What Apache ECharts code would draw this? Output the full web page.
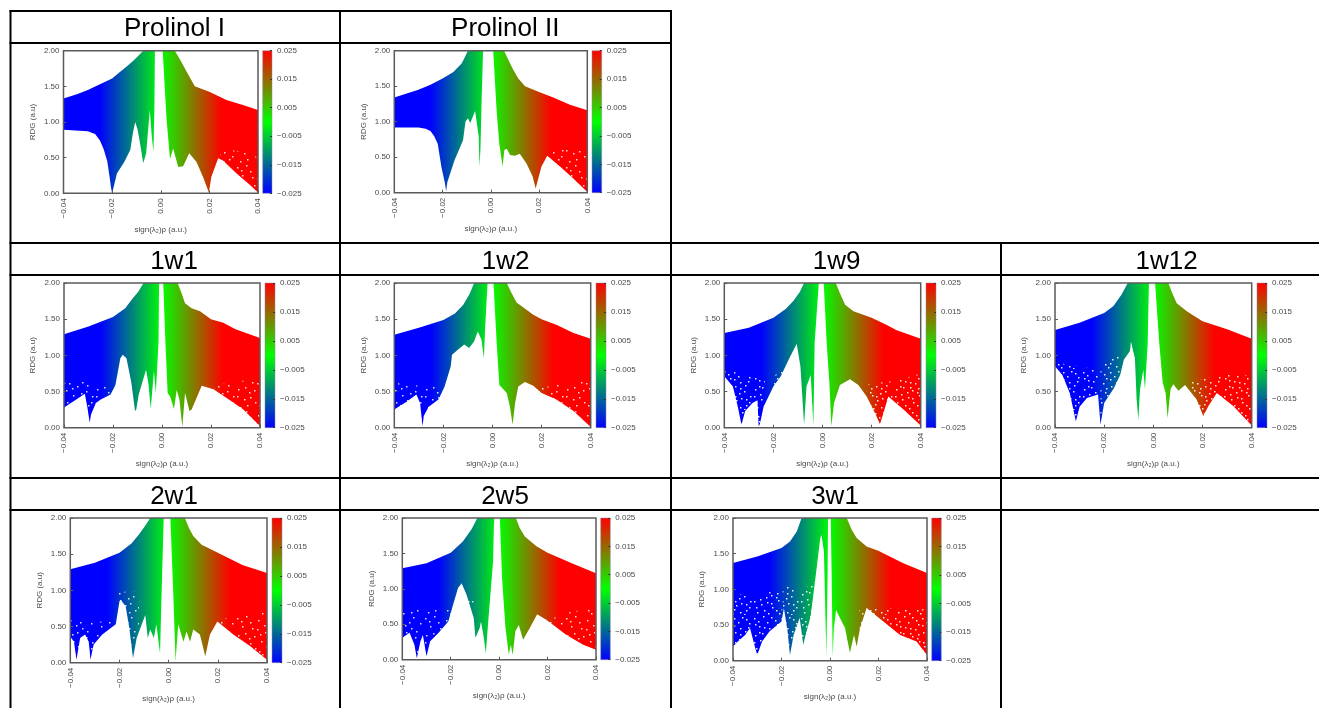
<!DOCTYPE html>
<html>
<head>
<meta charset="utf-8">
<script src="https://cdn.jsdelivr.net/npm/echarts@6/dist/echarts.min.js"></script>
<style>html,body{margin:0;padding:0;background:#fff}#c{width:1319px;height:708px}</style>
</head>
<body>
<div id="c"></div>
<script>
// ---- categories and tick labels ----
const panelNames = ['Prolinol I','Prolinol II','1w1','1w2','1w9','1w12','2w1','2w5','3w1'];
const xTickValues = [-0.04,-0.02,0,0.02,0.04];
const yTickValues = [0,0.5,1,1.5,2];
const colorTickValues = [-0.025,-0.015,-0.005,0.005,0.015,0.025];

// ---- [sign(l2)rho, RDG] upper and lower envelope of each point cloud ----
const prolinol1Upper = [[-0.04,1.33],[-0.0345,1.39],[-0.03,1.45],[-0.025,1.53],[-0.02,1.61],[-0.0168,1.7],[-0.014,1.78],[-0.0113,1.86],[-0.0092,1.93],[-0.0072,2],[0.0058,2],[0.0072,1.92],[0.0085,1.84],[0.0106,1.71],[0.014,1.5],[0.0202,1.42],[0.027,1.31],[0.0338,1.24],[0.04,1.17]];
const prolinol1Lower = [[-0.04,0.89],[-0.03,0.87],[-0.027,0.83],[-0.025,0.74],[-0.0235,0.62],[-0.022,0.45],[-0.021,0.22],[-0.0205,0.09],[-0.02,0],[-0.0195,0.07],[-0.018,0.28],[-0.015,0.44],[-0.0125,0.61],[-0.0115,0.84],[-0.0105,1],[-0.0095,0.89],[-0.0085,0.7],[-0.0072,0.42],[-0.006,0.56],[-0.0045,1.17],[-0.0037,0.8],[-0.003,0.58],[-0.0026,1.2],[-0.0024,2],[0.0008,2],[0.0024,1.03],[0.0038,0.48],[0.0051,0.63],[0.0072,0.37],[0.0092,0.38],[0.0117,0.56],[0.0147,0.44],[0.0174,0.23],[0.0198,0.01],[0.0208,0.23],[0.0236,0.49],[0.0256,0.46],[0.0311,0.28],[0.0366,0.12],[0.04,0.01]];
const prolinol1Sparse = [[[0.0245,0.6],[0.03,0.6],[0.035,0.58],[0.04,0.5]]];

const prolinol2Upper = [[-0.04,1.34],[-0.03,1.45],[-0.025,1.52],[-0.02,1.61],[-0.0155,1.7],[-0.0121,1.82],[-0.0107,1.91],[-0.0095,2],[0.0055,2],[0.0073,1.87],[0.0093,1.73],[0.0114,1.61],[0.0142,1.5],[0.02,1.42],[0.0259,1.34],[0.0328,1.24],[0.04,1.16]];
const prolinol2Lower = [[-0.04,0.92],[-0.03,0.92],[-0.027,0.9],[-0.025,0.87],[-0.0235,0.8],[-0.022,0.69],[-0.0205,0.37],[-0.019,0.13],[-0.0185,0.02],[-0.018,0.15],[-0.015,0.46],[-0.0115,0.74],[-0.0105,1],[-0.0095,1.05],[-0.0085,0.98],[-0.0065,1.15],[-0.005,0.79],[-0.0047,0.37],[-0.0043,0.6],[-0.0038,1.3],[-0.0032,2],[0.001,2],[0.0024,1.16],[0.0035,0.69],[0.0049,0.37],[0.0056,0.6],[0.0066,0.62],[0.008,0.53],[0.01,0.52],[0.012,0.55],[0.0148,0.41],[0.0173,0.23],[0.0186,0.06],[0.0193,0.15],[0.021,0.37],[0.0234,0.52],[0.0287,0.37],[0.0342,0.2],[0.04,0.01]];
const prolinol2Sparse = [[[0.0245,0.6],[0.03,0.62],[0.04,0.62]]];

const w1x1Upper = [[-0.04,1.29],[-0.03,1.4],[-0.02,1.53],[-0.015,1.65],[-0.0124,1.77],[-0.0097,1.88],[-0.0075,2],[0.0064,2],[0.008,1.86],[0.0094,1.72],[0.0121,1.65],[0.0155,1.61],[0.02,1.5],[0.025,1.45],[0.03,1.36],[0.04,1.24]];
const w1x1Lower = [[-0.04,0.28],[-0.035,0.39],[-0.0315,0.47],[-0.0305,0.29],[-0.0295,0.07],[-0.029,0.18],[-0.027,0.34],[-0.025,0.39],[-0.021,0.46],[-0.019,0.59],[-0.017,0.96],[-0.016,1.01],[-0.0145,0.96],[-0.0125,0.62],[-0.011,0.23],[-0.0105,0.25],[-0.0095,0.46],[-0.0065,0.8],[-0.0055,0.6],[-0.0046,0.26],[-0.0033,0.78],[-0.0025,0.48],[-0.0014,1.2],[-0.0012,2],[0.0005,2],[0.0014,1.17],[0.0023,0.48],[0.0033,0.43],[0.0049,0.26],[0.006,0.52],[0.0071,0.39],[0.0083,0.01],[0.0094,0.48],[0.0112,0.23],[0.0121,0.25],[0.0162,0.58],[0.021,0.53],[0.0264,0.41],[0.0332,0.25],[0.038,0.09],[0.04,0.02]];
const w1x1Sparse = [[[-0.04,0.62],[-0.03,0.65],[-0.021,0.6]],[[0.0215,0.58],[0.03,0.65],[0.04,0.65]]];

const w1x2Upper = [[-0.04,1.285],[-0.03,1.38],[-0.02,1.49],[-0.0153,1.58],[-0.0119,1.7],[-0.0092,1.86],[-0.0075,2],[0.0058,2],[0.0078,1.86],[0.0098,1.73],[0.0126,1.66],[0.0166,1.56],[0.02,1.5],[0.0262,1.42],[0.033,1.31],[0.04,1.23]];
const w1x2Lower = [[-0.04,0.25],[-0.035,0.36],[-0.031,0.46],[-0.0295,0.34],[-0.0285,0.02],[-0.028,0.16],[-0.026,0.29],[-0.022,0.39],[-0.0195,0.57],[-0.017,0.85],[-0.0165,1.01],[-0.014,1.08],[-0.0115,1.15],[-0.0095,1.1],[-0.0075,1.19],[-0.006,1.33],[-0.0045,1.22],[-0.0035,0.96],[-0.003,1.38],[-0.002,2],[0.0004,2],[0.0017,1.17],[0.0028,0.59],[0.0058,0.48],[0.0071,0.29],[0.0082,0.04],[0.0092,0.34],[0.0105,0.57],[0.0132,0.63],[0.0166,0.58],[0.02,0.48],[0.026,0.39],[0.033,0.23],[0.04,0.01]];
const w1x2Sparse = [[[-0.04,0.62],[-0.03,0.58],[-0.021,0.58]],[[0.02,0.55],[0.03,0.62],[0.04,0.66]]];

const w1x9Upper = [[-0.04,1.31],[-0.03,1.38],[-0.02,1.52],[-0.015,1.64],[-0.0119,1.75],[-0.0092,1.88],[-0.0075,2],[0.0054,2],[0.0071,1.86],[0.0092,1.7],[0.0126,1.61],[0.02,1.52],[0.0262,1.42],[0.03,1.35],[0.04,1.23]];
const w1x9Lower = [[-0.04,0.71],[-0.0365,0.57],[-0.0345,0.29],[-0.033,0.04],[-0.0315,0.23],[-0.0285,0.34],[-0.0265,0.38],[-0.026,0.02],[-0.0255,0.05],[-0.024,0.29],[-0.02,0.57],[-0.017,0.71],[-0.0135,0.96],[-0.0105,1.16],[-0.009,0.85],[-0.0075,0.04],[-0.0065,0.57],[-0.0048,0.73],[-0.0037,0.02],[-0.0032,1.17],[-0.0015,2],[0.0005,2],[0.0017,1.17],[0.0028,0.62],[0.0036,0.02],[0.0047,0.34],[0.0071,0.59],[0.0112,0.67],[0.0146,0.59],[0.018,0.43],[0.0214,0.2],[0.0234,0.05],[0.0248,0.2],[0.0268,0.43],[0.033,0.25],[0.04,0.03]];
const w1x9Sparse = [[[-0.04,0.8],[-0.03,0.72],[-0.0235,0.65]],[[-0.0205,0.7],[-0.014,0.85]],[[0.018,0.6],[0.03,0.65],[0.04,0.75]]];

const w1x12Upper = [[-0.04,1.35],[-0.03,1.45],[-0.02,1.585],[-0.0163,1.68],[-0.0129,1.84],[-0.0104,2],[0.0061,2],[0.0077,1.86],[0.0095,1.72],[0.0136,1.61],[0.02,1.47],[0.03,1.36],[0.04,1.23]];
const w1x12Lower = [[-0.04,0.85],[-0.037,0.73],[-0.034,0.48],[-0.0315,0.09],[-0.03,0.29],[-0.027,0.41],[-0.0225,0.46],[-0.0215,0.04],[-0.02,0.34],[-0.016,0.55],[-0.0135,0.73],[-0.012,0.94],[-0.0095,1.06],[-0.0091,1.19],[-0.0075,0.96],[-0.0068,0.39],[-0.0061,0.11],[-0.0054,0.53],[-0.0041,0.8],[-0.0034,0.53],[-0.0023,1.17],[-0.0018,2],[0.0007,2],[0.0024,1.17],[0.0038,0.62],[0.005,0.48],[0.0058,0.13],[0.007,0.53],[0.0081,0.6],[0.0102,0.51],[0.0129,0.59],[0.0176,0.39],[0.0203,0.16],[0.0224,0.3],[0.0258,0.48],[0.0325,0.3],[0.04,0.03]];
const w1x12Sparse = [[[-0.04,0.9],[-0.03,0.85],[-0.0225,0.8]],[[-0.0215,0.85],[-0.0135,1.05]],[[0.014,0.62],[0.03,0.75],[0.04,0.72]]];

const w2x1Upper = [[-0.04,1.29],[-0.03,1.38],[-0.02,1.52],[-0.015,1.65],[-0.0117,1.79],[-0.0092,1.91],[-0.0075,2],[0.0066,2],[0.0083,1.86],[0.01,1.75],[0.0134,1.63],[0.02,1.52],[0.03,1.35],[0.04,1.24]];
const w2x1Lower = [[-0.04,0.36],[-0.0385,0.29],[-0.0375,0.04],[-0.036,0.34],[-0.034,0.39],[-0.0325,0.29],[-0.0318,0.04],[-0.0305,0.25],[-0.027,0.39],[-0.0215,0.53],[-0.02,0.85],[-0.0195,0.87],[-0.0175,0.78],[-0.016,0.48],[-0.0145,0.06],[-0.013,0.34],[-0.0095,0.66],[-0.0085,0.34],[-0.0075,0.46],[-0.006,0.34],[-0.005,0.53],[-0.0035,0.13],[-0.003,0.8],[-0.002,2],[0.0007,2],[0.0019,0.94],[0.0028,0.02],[0.0039,0.53],[0.006,0.29],[0.0073,0.43],[0.0087,0.29],[0.01,0.46],[0.0127,0.39],[0.0149,0.09],[0.0168,0.39],[0.0198,0.57],[0.0263,0.39],[0.0331,0.23],[0.04,0.04]];
const w2x1Sparse = [[[-0.04,0.6],[-0.03,0.55],[-0.021,0.62]],[[-0.0205,0.98],[-0.012,0.98]],[[0.02,0.6],[0.03,0.65],[0.04,0.7]]];

const w2x5Upper = [[-0.04,1.29],[-0.03,1.36],[-0.02,1.51],[-0.015,1.67],[-0.0114,1.84],[-0.009,2],[0.0069,2],[0.0085,1.86],[0.0106,1.74],[0.0154,1.6],[0.02,1.51],[0.03,1.36],[0.04,1.22]];
const w2x5Lower = [[-0.04,0.31],[-0.037,0.38],[-0.035,0.21],[-0.034,0.02],[-0.0325,0.26],[-0.0315,0.35],[-0.03,0.05],[-0.0285,0.26],[-0.025,0.38],[-0.021,0.54],[-0.019,0.78],[-0.017,1.01],[-0.0155,1.08],[-0.0135,0.92],[-0.0105,0.59],[-0.0098,0.31],[-0.008,0.45],[-0.0075,0.54],[-0.0065,0.35],[-0.0055,0.09],[-0.0045,0.54],[-0.0025,1.39],[-0.0022,1.86],[-0.002,2],[0.0003,2],[0.0012,1.15],[0.0026,0.45],[0.004,0.07],[0.0048,0.21],[0.0056,0.07],[0.0067,0.4],[0.0081,0.49],[0.0099,0.28],[0.0127,0.45],[0.0157,0.64],[0.0196,0.56],[0.0278,0.35],[0.0347,0.21],[0.04,0.14]];
const w2x5Sparse = [[[-0.04,0.75],[-0.03,0.7],[-0.02,0.72]],[[-0.018,1.05],[-0.0105,0.85]],[[0.02,0.56],[0.03,0.68],[0.04,0.72]]];

const w3x1Upper = [[-0.04,1.37],[-0.03,1.46],[-0.02,1.58],[-0.0165,1.67],[-0.0137,1.81],[-0.0117,2],[0.0069,2],[0.0089,1.84],[0.011,1.72],[0.0151,1.6],[0.0199,1.54],[0.03,1.37],[0.04,1.23]];
const w3x1Lower = [[-0.04,0.2],[-0.038,0.27],[-0.035,0.36],[-0.033,0.46],[-0.031,0.2],[-0.03,0.08],[-0.028,0.27],[-0.025,0.41],[-0.02,0.55],[-0.019,0.74],[-0.0175,0.41],[-0.0165,0.08],[-0.015,0.36],[-0.0125,0.6],[-0.011,0.22],[-0.0105,0.3],[-0.008,0.62],[-0.006,1.16],[-0.004,1.72],[-0.0035,1.76],[-0.0025,1.53],[-0.0015,0.06],[-0.001,1.16],[-0.0008,2],[0.0003,2],[0.0007,1.16],[0.0011,0.06],[0.0016,0.46],[0.0025,0.71],[0.0041,0.6],[0.0062,0.46],[0.0082,0.11],[0.0099,0.36],[0.011,0.2],[0.0124,0.46],[0.0151,0.74],[0.022,0.55],[0.0289,0.36],[0.0357,0.27],[0.04,0.08]];
const w3x1Sparse = [[[-0.04,0.95],[-0.03,0.9],[-0.02,1.02]],[[-0.0195,1.05],[-0.0115,1.0],[-0.004,1.15]],[[0.012,0.72],[0.02,0.75],[0.03,0.72],[0.04,0.72]]];

// palette of the colour box: value -> colour
const paletteValues = [-0.04,-0.025,0,0.025,0.04];
const paletteColors = ['#0000ff','#0000ff','#00ff00','#ff0000','#ff0000'];

// ---- layout (pixels) ----
const layout = [
  {l:63.5,r:258,t:50.7,b:193.3,cl:262.7,cr:272,tx:174.5,ty:29},
  {l:394.3,r:587.3,t:50.7,b:192.7,cl:592,cr:601.7,tx:505.3,ty:29},
  {l:64,r:260,t:283,b:427.7,cl:265,cr:275,tx:174,ty:262},
  {l:394.3,r:590.7,t:283,b:427.7,cl:596,cr:606,tx:505.7,ty:262},
  {l:724.3,r:920.7,t:283,b:427.7,cl:926,cr:936,tx:836.7,ty:262},
  {l:1055,r:1251.7,t:283,b:427.7,cl:1257,cr:1267,tx:1166.7,ty:262},
  {l:70.3,r:267,t:518,b:662.7,cl:272,cr:282,tx:174,ty:497},
  {l:402.3,r:596,t:518,b:659.7,cl:600.7,cr:610.3,tx:505,ty:497},
  {l:733,r:927,t:518,b:660.7,cl:931.7,cr:941.3,tx:835,ty:497}
];
const panelUpper = [prolinol1Upper,prolinol2Upper,w1x1Upper,w1x2Upper,w1x9Upper,w1x12Upper,w2x1Upper,w2x5Upper,w3x1Upper];
const panelLower = [prolinol1Lower,prolinol2Lower,w1x1Lower,w1x2Lower,w1x9Lower,w1x12Lower,w2x1Lower,w2x5Lower,w3x1Lower];
const panelSparse = [prolinol1Sparse,prolinol2Sparse,w1x1Sparse,w1x2Sparse,w1x9Sparse,w1x12Sparse,w2x1Sparse,w2x5Sparse,w3x1Sparse];
const speckleDense = [false,false,false,false,true,true,false,false,true];

const FONT = '"Liberation Sans", Arial, sans-serif';
const INK = '#4a4a4a', FRAME = '#5a5a5a';
const minusFmt = d => v => v.toFixed(d).replace('-', '\u2212');

// white speckle tiles: the gaps between the sparse points of the cloud
function speckleTile(spots, alpha){
  const c = document.createElement('canvas'); c.width = 47; c.height = 41;
  const g = c.getContext('2d'); g.fillStyle = 'rgba(255,255,255,'+alpha+')';
  spots.forEach(p => g.fillRect(p[0], p[1], 1.5, 1.5));
  return c;
}
const tileSpots = [[2,3],[11,1],[23,5],[37,2],[44,8],[7,11],[17,13],[29,10],[40,16],[3,20],[14,23],[25,19],[34,24],[45,27],[9,30],[20,33],[31,31],[41,36],[5,38],[27,39]];
const tileExtra = [[6,6],[15,7],[33,7],[22,14],[35,13],[10,18],[19,21],[30,17],[39,22],[2,27],[15,28],[26,26],[36,29],[12,36],[24,36],[35,38],[44,33]];
const tileMore = [[19,2],[29,3],[41,4],[3,9],[12,12],[25,9],[43,12],[7,17],[17,18],[35,19],[24,23],[8,25],[30,27],[19,29],[41,30],[4,33],[29,35],[16,39],[39,40]];
const tileSparse = speckleTile(tileSpots.concat(tileExtra), 0.85);
const tileDense = speckleTile(tileSpots.concat(tileExtra, tileMore), 0.9);

const grid = [], xAxis = [], yAxis = [], series = [], title = [];
const axisFont = {fontFamily:FONT,fontSize:8,color:INK};
const noLine = {show:false,onZero:false};

panelNames.forEach((name,i) => {
  const L = layout[i];
  title.push({text:name,left:L.tx,top:L.ty,padding:0,textAlign:'center',textVerticalAlign:'middle',
    textStyle:{fontFamily:FONT,fontSize:26,fontWeight:'normal',color:'#000'}});

  // main plot
  const gi = grid.length;
  grid.push({left:L.l,top:L.t,width:L.r-L.l,height:L.b-L.t,show:true,borderColor:FRAME,borderWidth:1.5,backgroundColor:'transparent',z:5});
  xAxis.push({gridIndex:gi,type:'value',min:-0.04,max:0.04,interval:0.02,z:6,
    name:'sign(\u03bb\u2082)\u03c1 (a.u.)',nameLocation:'middle',nameGap:32,nameTextStyle:{fontFamily:FONT,fontSize:8,color:INK},
    splitLine:{show:false},axisLine:noLine,axisTick:{show:true,inside:true,length:3,lineStyle:{color:FRAME}},
    axisLabel:Object.assign({rotate:90,margin:5,formatter:minusFmt(2),customValues:xTickValues},axisFont)});
  yAxis.push({gridIndex:gi,type:'value',min:0,max:2,interval:0.5,z:6,
    name:'RDG (a.u)',nameLocation:'middle',nameGap:27,nameRotate:90,nameTextStyle:{fontFamily:FONT,fontSize:8,color:INK},
    splitLine:{show:false},axisLine:noLine,axisTick:{show:true,inside:true,length:3,lineStyle:{color:FRAME}},
    axisLabel:Object.assign({margin:4,formatter:minusFmt(2),customValues:yTickValues},axisFont)});

  const outline = panelUpper[i].concat(panelLower[i].slice().reverse());
  series.push({type:'custom',xAxisIndex:gi,yAxisIndex:gi,coordinateSystem:'cartesian2d',silent:true,clip:true,z:2,
    data:outline,encode:{x:0,y:1},
    renderItem:(params,api)=>{
      if(params.dataIndex!==0) return null;
      const a=api.coord([-0.04,0]), b=api.coord([0.04,0]);
      const stops=paletteValues.map((v,k)=>({offset:(v+0.04)/0.08,color:paletteColors[k]}));
      return {type:'polygon',shape:{points:outline.map(p=>api.coord(p))},
        style:{fill:new echarts.graphic.LinearGradient(a[0],0,b[0],0,stops,true)}};
    }});
  panelSparse[i].forEach(seg=>{
    const zone = seg.concat([[seg[seg.length-1][0],0],[seg[0][0],0]]);
    series.push({type:'custom',xAxisIndex:gi,yAxisIndex:gi,coordinateSystem:'cartesian2d',silent:true,clip:true,z:3,
      data:zone,encode:{x:0,y:1},
      renderItem:(params,api)=>{
        if(params.dataIndex!==0) return null;
        return {type:'polygon',shape:{points:zone.map(p=>api.coord(p))},
          style:{fill:{image:speckleDense[i]?tileDense:tileSparse,repeat:'repeat'}}};
      }});
  });

  // colour box
  const ci = grid.length;
  grid.push({left:L.cl,top:L.t,width:L.cr-L.cl,height:L.b-L.t,show:false});
  xAxis.push({gridIndex:ci,type:'value',min:0,max:1,show:false,axisLine:noLine});
  yAxis.push({gridIndex:ci,type:'value',min:-0.025,max:0.025,position:'right',z:6,
    splitLine:{show:false},axisLine:noLine,
    axisTick:{show:true,inside:true,length:2,lineStyle:{color:'#333'},customValues:colorTickValues},
    axisLabel:Object.assign({margin:5,formatter:minusFmt(3),customValues:colorTickValues},axisFont)});
  const boxData=[[0,-0.025],[1,0.025]];
  series.push({type:'custom',xAxisIndex:ci,yAxisIndex:ci,coordinateSystem:'cartesian2d',silent:true,z:2,
    data:boxData,encode:{x:0,y:1},
    renderItem:(params,api)=>{
      if(params.dataIndex!==0) return null;
      const p0=api.coord(boxData[0]), p1=api.coord(boxData[1]);
      return {type:'rect',shape:{x:p0[0],y:p1[1],width:p1[0]-p0[0],height:p0[1]-p1[1]},
        style:{fill:new echarts.graphic.LinearGradient(0,1,0,0,[
          {offset:0,color:'#0000ff'},{offset:0.5,color:'#00ff00'},{offset:1,color:'#ff0000'}]),
          stroke:'#8a8aa0',lineWidth:0.5}};
    }});
});

// table rules
const rule=(x1,y1,x2,y2)=>({type:'line',silent:true,shape:{x1,y1,x2,y2},style:{stroke:'#000',lineWidth:2}});
const graphic=[
  rule(9.5,11,672,11),rule(9.5,43,672,43),
  rule(9.5,243,1319,243),rule(9.5,275,1319,275),
  rule(9.5,478,1319,478),rule(9.5,510,1319,510),
  rule(10.5,10,10.5,708),rule(340,10,340,708),rule(671,10,671,708),rule(1001,242,1001,708)
];

const chart=echarts.init(document.getElementById('c'),null,{renderer:'canvas'});
chart.setOption({animation:false,backgroundColor:'#fff',title,grid,xAxis,yAxis,series,graphic});
</script>
</body>
</html>
